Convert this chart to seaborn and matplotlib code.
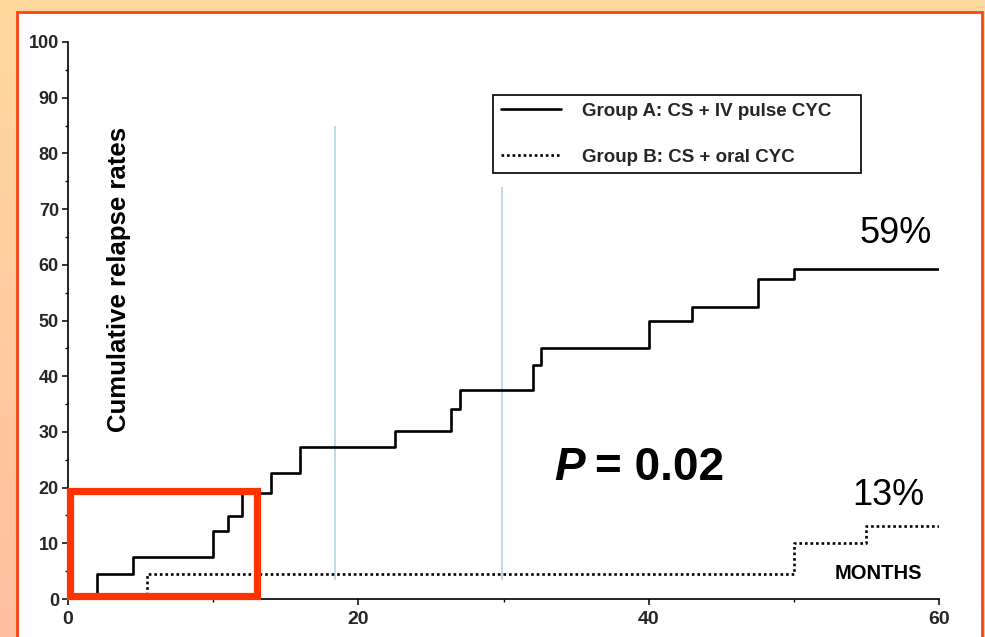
import matplotlib
matplotlib.use("Agg")
import matplotlib.pyplot as plt
import matplotlib.patches as mpatches
import matplotlib.colors as mcolors
from matplotlib.ticker import MultipleLocator
import numpy as np
import pandas as pd
import seaborn as sns

# ---------------- data ----------------
months_a = [0, 2, 4.5, 10, 11, 12, 14, 16, 22.5, 26.4, 27, 32, 32.6, 40, 43, 47.5, 50, 60]
rates_a = [0, 4.5, 7.6, 12.2, 14.9, 19.0, 22.6, 27.3, 30.2, 34.2, 37.6, 42.1, 45.0, 50.0, 52.4, 57.4, 59.2, 59.2]
months_b = [0, 5.45, 50, 55, 60]
rates_b = [0, 4.5, 10.0, 13.1, 13.1]
label_a = "Group A: CS + IV pulse CYC"
label_b = "Group B: CS + oral CYC"
x_ticks = [0, 20, 40, 60]
y_ticks = [0, 10, 20, 30, 40, 50, 60, 70, 80, 90, 100]
final_a_text = "59%"
final_b_text = "13%"
p_value_text = "= 0.02"
guide_x = [18.4, 29.9]
guide_top = [85.0, 74.0]
guide_bottom = 3.4
highlight_box = [0.17, 0.45, 12.85, 18.85]  # x, y, width, height (data units)

# ---------------- style ----------------
sns.set_theme(style="ticks")
plt.rcParams["font.family"] = ["Liberation Sans", "DejaVu Sans"]

fig = plt.figure(figsize=(9.85, 6.37), dpi=100)

# background: orange gradient with white panel and red frame line
bg = fig.add_axes([0, 0, 1, 1], zorder=-10)
grad = np.linspace(0, 1, 256).reshape(-1, 1)
cmap = mcolors.LinearSegmentedColormap.from_list("bg", ["#ffd99e", "#ffbfa0"])
bg.imshow(grad, aspect="auto", cmap=cmap, extent=[0, 1, 0, 1], origin="upper")
bg.set_axis_off()
W, H = 985.0, 637.0
panel = mpatches.Rectangle((17 / W, -0.02), (982 - 17) / W, (637 - 12) / H + 0.02,
                           transform=fig.transFigure, facecolor="white",
                           edgecolor="#ff4214", linewidth=2.0, zorder=-5)
fig.patches.append(panel)

ax = fig.add_axes([68 / W, (637 - 599) / H, (939 - 68) / W, (599 - 42) / H])
ax.set_facecolor("none")

df = pd.DataFrame({
    "month": months_a + months_b,
    "rate": rates_a + rates_b,
    "group": ["A"] * len(months_a) + ["B"] * len(months_b),
})
sns.lineplot(data=df, x="month", y="rate", hue="group", style="group",
             palette={"A": "black", "B": "black"},
             dashes={"A": "", "B": (1, 1.1)},
             drawstyle="steps-post", estimator=None, sort=False,
             linewidth=1.9, ax=ax, legend=False)

ax.set_xlim(0, 60)
ax.set_ylim(0, 100)
ax.set_xticks(x_ticks)
ax.set_yticks(y_ticks)
ax.xaxis.set_minor_locator(MultipleLocator(10))
ax.yaxis.set_minor_locator(MultipleLocator(5))
ax.tick_params(axis="both", which="major", length=4, width=1.1, color="black", pad=2.5)
ax.tick_params(axis="both", which="minor", length=2.5, width=1.0, color="black")
ax.tick_params(axis="x", which="major", pad=5)
for lab in ax.get_xticklabels():
    lab.set_fontweight("bold"); lab.set_fontsize(14)
for lab in ax.get_yticklabels():
    lab.set_fontweight("bold"); lab.set_fontsize(13)
ax.set_xlabel("")
ax.set_ylabel("")
sns.despine(ax=ax)
for s in ("left", "bottom"):
    ax.spines[s].set_linewidth(1.2)
    ax.spines[s].set_color("black")

# guide lines
ax.vlines(guide_x, guide_bottom, guide_top, colors="#a9d3dc", linewidth=1.1, zorder=1)

# highlight box
ax.add_patch(mpatches.Rectangle((highlight_box[0], highlight_box[1]),
                                highlight_box[2], highlight_box[3],
                                fill=False, edgecolor="#ff3300", linewidth=5.2,
                                clip_on=False, zorder=5, joinstyle="miter"))

# legend
lines = ax.get_lines()
leg = ax.legend(handles=[lines[0], lines[1]], labels=[label_a, label_b],
                loc="upper left", bbox_to_anchor=(0.488, 0.755, 0.4225, 0.15),
                mode="expand", borderaxespad=0, frameon=True, fancybox=False,
                edgecolor="black", framealpha=1, handlelength=3.25,
                handletextpad=1.07, labelspacing=1.55, borderpad=0.4,
                prop={"weight": "bold", "size": 13.5})
leg.get_frame().set_linewidth(1.2)

# texts
ax.text(3.5, 57.4, "Cumulative relapse rates", rotation=90, ha="center", va="center",
        fontsize=18.5, fontweight="bold", color="black")
ax.text(54.5, 64.0, final_a_text, fontsize=26, color="black", ha="left", va="baseline")
ax.text(54.0, 16.9, final_b_text, fontsize=26, color="black", ha="left", va="baseline")
ax.text(52.8, 3.6, "MONTHS", fontsize=14.5, fontweight="bold", color="black",
        ha="left", va="baseline")
ax.text(33.5, 21.4, "P", fontsize=33, fontweight="bold", fontstyle="italic",
        color="black", ha="left", va="baseline")
ax.text(36.3, 21.4, p_value_text, fontsize=33, fontweight="bold",
        color="black", ha="left", va="baseline")

fig.savefig("out.png", dpi=100)
